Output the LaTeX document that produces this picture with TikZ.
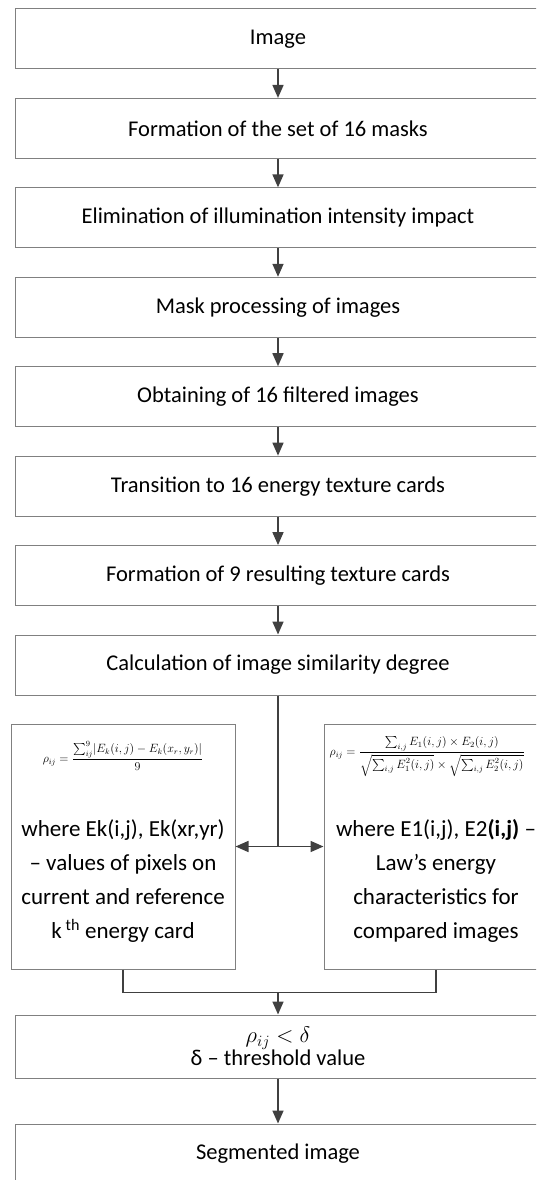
\documentclass[tikz,border=0pt]{standalone}
\usepackage{fix-cm}
\usepackage{amsmath}
\usepackage{fontspec}
\setmainfont{Carlito}
\usetikzlibrary{arrows.meta,positioning}

\begin{document}
\begin{tikzpicture}[x=1pt,y=-1pt,
    stage/.style={draw=boxgray,line width=1pt,minimum width=526pt,
        minimum height=60pt,inner sep=0pt,align=center,
        font=\fontsize{22.5}{21}\selectfont},
    side/.style={draw=boxgray,line width=1pt,minimum width=224pt,
        minimum height=245pt,inner sep=0pt},
    note/.style={align=center,inner sep=0pt,font=\fontsize{23}{34}\selectfont},
    fml/.style={inner sep=0pt,font=\fontsize{12}{13}\selectfont},
    flow/.style={draw=linegray,line width=1.6pt,
        -{Triangle[length=13pt,width=11pt]}},
    link/.style={draw=linegray,line width=1.6pt}]
    \definecolor{boxgray}{RGB}{128,128,128}
    \definecolor{linegray}{RGB}{64,64,64}

    \useasboundingbox (0,0) rectangle (536,1180);
    \clip (0,0) rectangle (536,1180);

    % main chain of steps
    \foreach \txt [count=\i] in {Image,
        Formation of the set of 16 masks,
        Elimination of illumination intensity impact,
        Mask processing of images,
        Obtaining of 16 filtered images,
        Transition to 16 energy texture cards,
        Formation of 9 resulting texture cards,
        Calculation of image similarity degree}
        \node[stage] (s\i) at (278,{39+(\i-1)*89.43}) {\txt};
    \foreach \i [count=\j from 2] in {1,...,7}
        \draw[flow] (s\i) -- (s\j);

    % the two similarity measures
    \node[side] (lbox) at (123,846.5) {};
    \node[side] (rbox) at (436,846.5) {};
    \node[fml,below=18pt of lbox.north] (lfml)
        {$\rho_{ij}=\dfrac{\sum_{ij}^{9}\lvert E_k(i,j)-E_k(x_r,y_r)\rvert}{9}$};
    \node[note] (lnote) at (123,881)
        {where Ek(i,j), Ek(xr,yr)\\– values of pixels on\\current and reference\\k\,\textsuperscript{th} energy card};
    \node[fml,anchor=west] (rfml) at ([xshift=6pt,yshift=-33pt]rbox.north west)
        {$\rho_{ij}=\dfrac{\sum_{i,j}E_1(i,j)\times E_2(i,j)}{\sqrt{\sum_{i,j}E_1^2(i,j)}\times\sqrt{\sum_{i,j}E_2^2(i,j)}}$};
    \node[note] (rnote) at (436,881)
        {where E1(i,j), E2\textbf{(i,j)} –\\Law’s energy\\characteristics for\\compared images};

    % fork after the similarity step
    \coordinate (fork) at (s8.south |- lbox.east);
    \draw[link] (s8) -- (fork);
    \draw[flow] (fork) -- (lbox);
    \draw[flow] (fork) -- (rbox);

    % threshold test and result
    \node[stage,minimum height=63pt] (thr) at (278,1046.5)
        {$\rho_{ij}<\delta$\\δ – threshold value};
    \node[stage] (seg) at (278,1154) {Segmented image};
    \path (lbox.south) ++(0,23) coordinate (jl);
    \coordinate (join) at (jl -| thr.north);
    \draw[link] (lbox.south) -- (jl) -| (rbox.south);
    \draw[flow] (join) -- (thr);
    \draw[flow] (thr) -- (seg);
\end{tikzpicture}
\end{document}
